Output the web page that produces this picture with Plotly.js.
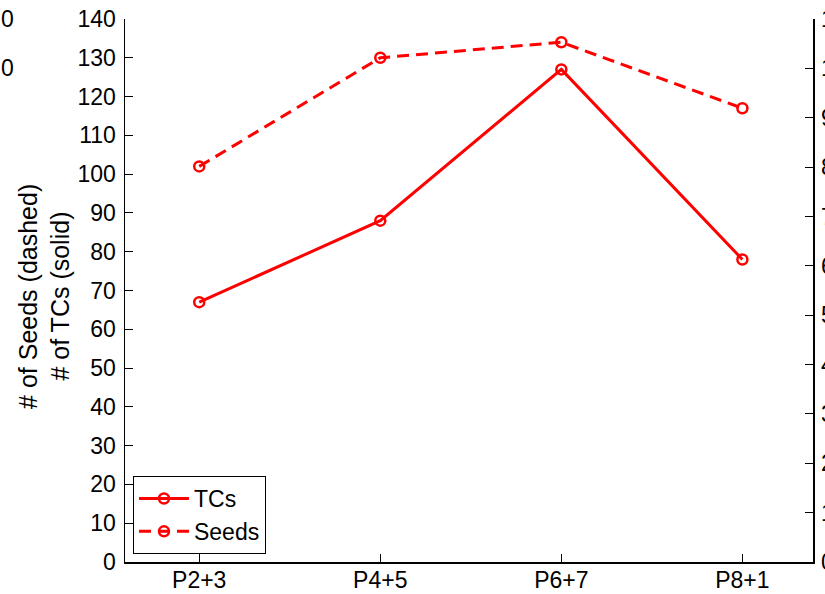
<!DOCTYPE html>
<html><head><meta charset="utf-8">
<script src="https://cdn.plot.ly/plotly-3.0.1.min.js"></script>
<style>html,body{margin:0;padding:0;background:#fff;overflow:hidden}</style>
</head><body><div id="chart" style="width:825px;height:594px"></div>
<script>
const categories = ["P2+3", "P4+5", "P6+7", "P8+1"];
const tcs = [67, 88, 127, 78];
const seeds = [102, 130, 134, 117];
const leftTicks = [0,10,20,30,40,50,60,70,80,90,100,110,120,130,140];
const rightTicks = [0,1,2,3,4,5,6,7,8,9,10,11];
const xIdx = categories.map((c,i)=>i);

const font = "Liberation Sans, Arial, Helvetica, sans-serif";
const red = "#ff0000";

const traces = [
  {x: xIdx, y: tcs, name: "TCs", type: "scatter", mode: "lines+markers",
   line: {color: red, width: 3},
   marker: {symbol: "circle-open", size: 10, color: red, line: {width: 2.5, color: red}}},
  {x: xIdx, y: seeds, name: "Seeds", type: "scatter", mode: "lines+markers",
   line: {color: red, width: 3, dash: "12px,7px"},
   marker: {symbol: "circle-open", size: 10, color: red, line: {width: 2.5, color: red}}},
  {x: [xIdx[0]], y: [rightTicks[0]], yaxis: "y2", type: "scatter", mode: "markers",
   marker: {opacity: 0}, showlegend: false, hoverinfo: "skip"}
];

const layout = {
  width: 825, height: 594,
  margin: {l: 125, r: 12, t: 19, b: 32, pad: 0},
  paper_bgcolor: "#fff", plot_bgcolor: "#fff",
  font: {family: font, size: 23, color: "#000"},
  showlegend: true,
  xaxis: {
    range: [-0.41, 3.39], tickvals: xIdx, ticktext: categories,
    ticks: "inside", ticklen: 8, tickcolor: "#000", tickwidth: 1,
    showline: true, linecolor: "#000", linewidth: 1.5, showgrid: false, zeroline: false,
    tickfont: {family: font, size: 23}, ticklabelstandoff: -3, fixedrange: true
  },
  yaxis: {
    range: [0, 140], tickvals: leftTicks,
    ticks: "inside", ticklen: 8, tickcolor: "#000", tickwidth: 1,
    showline: true, linecolor: "#000", linewidth: 1.5, showgrid: false, zeroline: false,
    tickfont: {family: font, size: 23}, ticklabelstandoff: 3
  },
  yaxis2: {
    range: [0, 11], tickvals: rightTicks, overlaying: "y", side: "right",
    ticks: "inside", ticklen: 8, tickcolor: "#000", tickwidth: 1,
    showline: true, linecolor: "#000", linewidth: 1.5, showgrid: false, zeroline: false,
    tickfont: {family: font, size: 23}, ticklabelstandoff: 2
  },
  legend: {
    x: 0.0116, y: 0.0147, xanchor: "left", yanchor: "bottom",
    bgcolor: "#fff", bordercolor: "#000", borderwidth: 1,
    font: {family: font, size: 23}, itemwidth: 50, tracegroupgap: 0
  },
  annotations: [
    {text: "# of Seeds (dashed)", textangle: -90, xref: "paper", yref: "paper",
     x: -0.141, y: 0.49, xanchor: "center", yanchor: "middle", showarrow: false,
     font: {family: font, size: 25}},
    {text: "# of TCs (solid)", textangle: -90, xref: "paper", yref: "paper",
     x: -0.095, y: 0.49, xanchor: "center", yanchor: "middle", showarrow: false,
     font: {family: font, size: 25}},
    {text: "0", xref: "paper", yref: "y2", x: -0.158, y: rightTicks[11], xanchor: "right",
     yanchor: "middle", showarrow: false, font: {family: font, size: 23}},
    {text: "0", xref: "paper", yref: "y2", x: -0.158, y: rightTicks[10], xanchor: "right",
     yanchor: "middle", showarrow: false, font: {family: font, size: 23}}
  ]
};

Plotly.newPlot("chart", traces, layout, {displayModeBar: false, staticPlot: true});
</script></body></html>
